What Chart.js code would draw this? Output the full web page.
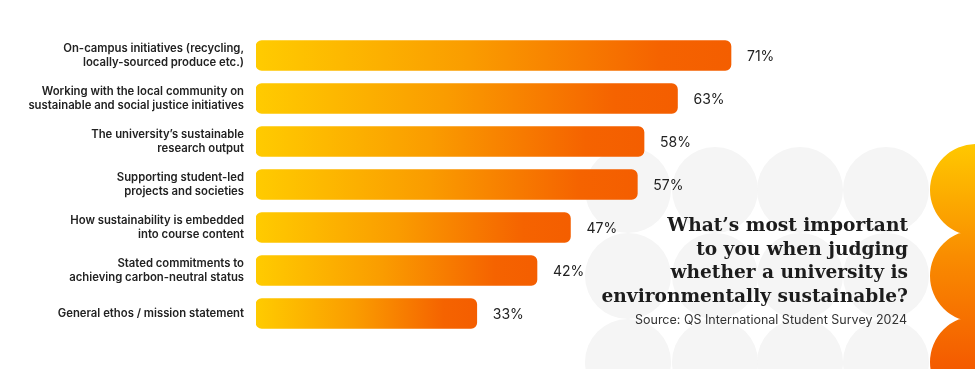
<!DOCTYPE html>
<html>
<head>
    <title>Environmental sustainability priorities</title>
    <style>
        html, body { margin: 0; padding: 0; background: #ffffff; }
        #wrap { position: relative; width: 975px; height: 369px; overflow: hidden; }
        #chart { position: absolute; left: 0; top: 0; }
        #title {
            position: absolute; right: 67px; top: 213px; text-align: right;
            font-family: "DejaVu Serif", serif; font-weight: bold; font-size: 18.6px;
            line-height: 23.5px; color: #1c1c1c;
        }
        #source {
            position: absolute; right: 68px; top: 312px; text-align: right;
            font-family: Inter, sans-serif; font-size: 12.5px; color: #333;
        }
    </style>
</head>
<body>
    <div id="wrap">
        <canvas id="chart" width="975" height="369"></canvas>
        <div id="title">What’s most important<br>to you when judging<br>whether a university is<br>environmentally sustainable?</div>
        <div id="source">Source: QS International Student Survey 2024</div>
    </div>

    <script src="https://cdn.jsdelivr.net/npm/chart.js"></script>
    <script type="text/javascript">
        const categories = [
            ['On-campus initiatives (recycling,', 'locally-sourced produce etc.)'],
            ['Working with the local community on', 'sustainable and social justice initiatives'],
            ['The university’s sustainable', 'research output'],
            ['Supporting student-led', 'projects and societies'],
            ['How sustainability is embedded', 'into course content'],
            ['Stated commitments to', 'achieving carbon-neutral status'],
            'General ethos / mission statement'
        ];
        const shares = [71, 63, 58, 57, 47, 42, 33];
        const valueLabels = ['71%', '63%', '58%', '57%', '47%', '42%', '33%'];

        // light grey circles and the orange scallop on the right
        const backdrop = {
            id: 'backdrop',
            beforeDraw(chart) {
                const c = chart.ctx;
                c.save();
                c.fillStyle = '#f5f5f5';
                [190, 276, 362].forEach(cy => {
                    [628, 715, 800, 886].forEach(cx => {
                        c.beginPath();
                        c.arc(cx, cy, 43, 0, Math.PI * 2);
                        c.fill();
                    });
                });
                const g = c.createLinearGradient(0, 144, 0, 369);
                g.addColorStop(0, '#ffc800');
                g.addColorStop(0.5, '#f98c00');
                g.addColorStop(1, '#f45a00');
                c.fillStyle = g;
                c.beginPath();
                [190, 276, 362].forEach(cy => {
                    c.moveTo(976 + 46, cy);
                    c.arc(976, cy, 46, 0, Math.PI * 2);
                });
                c.fill();
                c.restore();
            }
        };

        const valueText = {
            id: 'valueText',
            afterDatasetsDraw(chart) {
                const c = chart.ctx;
                const meta = chart.getDatasetMeta(0);
                c.save();
                c.font = '14px Inter, sans-serif';
                c.fillStyle = '#222';
                c.textBaseline = 'middle';
                meta.data.forEach((bar, i) => {
                    c.fillText(valueLabels[i], bar.x + 16, bar.y + 1);
                });
                c.restore();
            }
        };

        function barGradient(ctx) {
            const chart = ctx.chart;
            if (!chart.chartArea) return '#fba000';
            const x0 = chart.scales.x.getPixelForValue(0);
            const x1 = chart.scales.x.getPixelForValue(ctx.raw);
            const g = chart.ctx.createLinearGradient(x0, 0, x1, 0);
            g.addColorStop(0, '#ffcb00');
            g.addColorStop(0.45, '#fa9c00');
            g.addColorStop(0.85, '#f56300');
            g.addColorStop(1, '#f45e00');
            return g;
        }

        new Chart(document.getElementById('chart'), {
            type: 'bar',
            data: {
                labels: categories,
                datasets: [{
                    data: shares,
                    backgroundColor: barGradient,
                    borderRadius: 6,
                    borderSkipped: false,
                    barThickness: 30,
                    categoryPercentage: 1
                }]
            },
            options: {
                indexAxis: 'y',
                responsive: false,
                animation: false,
                layout: { padding: { top: 34, bottom: 34, left: 0, right: 50 } },
                plugins: {
                    legend: { display: false },
                    tooltip: { enabled: false }
                },
                scales: {
                    x: { display: false, min: 0, max: 100 },
                    y: {
                        grid: { display: false, drawTicks: false },
                        border: { display: false },
                        afterFit(scale) { scale.width = 256; },
                        ticks: {
                            padding: 12,
                            color: '#222',
                            font: { family: 'Inter', size: 11.3, weight: 600, lineHeight: 1.22 }
                        }
                    }
                }
            },
            plugins: [backdrop, valueText]
        });
    </script>
</body>
</html>
